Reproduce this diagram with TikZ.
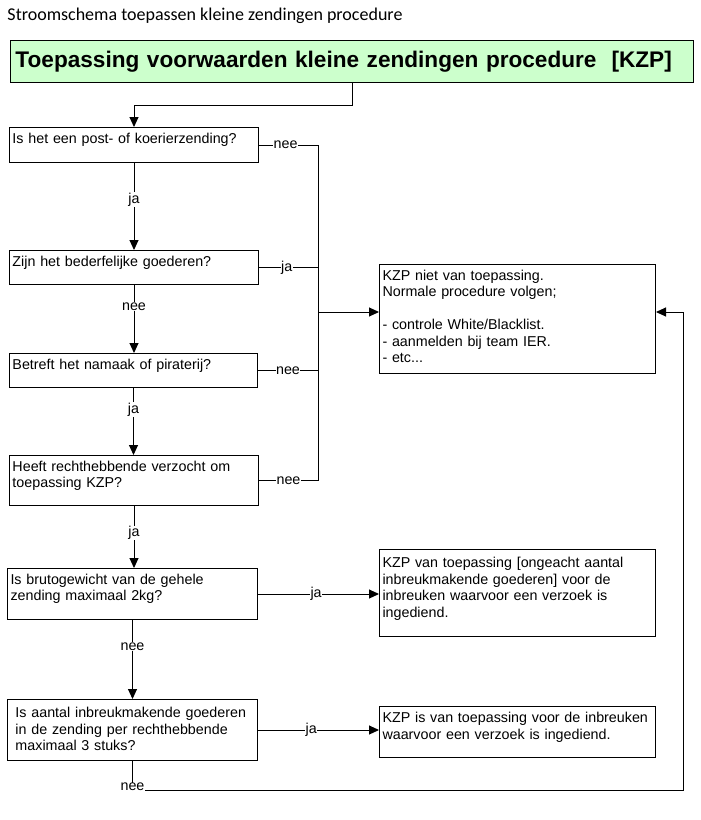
\documentclass[tikz,border=0pt]{standalone}
\usepackage{fontspec}
\setmainfont{Liberation Sans}
\newfontfamily\titlefont{Carlito}
\usepackage{tikz}
\usetikzlibrary{arrows.meta}
\definecolor{kzpgreen}{RGB}{204,255,204}
\newcommand{\boxfont}{\fontsize{14.3}{16.5}\selectfont}

\begin{document}
\begin{tikzpicture}[x=1pt,y=-1pt,>={Triangle[length=10pt,width=9pt]},line width=1pt,
  main node/.style={draw,anchor=north west,inner xsep=3pt,inner ysep=3pt,text height=12.5pt,align=left,font=\boxfont},
  head node/.style={draw,fill=kzpgreen,anchor=north west,minimum height=42pt,text width=673pt,inner xsep=5pt,align=left,font=\bfseries\fontsize{22.6}{26}\selectfont},
  title node/.style={anchor=west,inner sep=0pt,font=\titlefont\fontsize{18}{21}\selectfont},
  answer/.style={fill=white,inner sep=0.5pt,font=\boxfont}]
  \useasboundingbox (0,0) rectangle (701,820);

  \node[title node] (title) at (7,16) {Stroomschema toepassen kleine zendingen procedure};
  \node[head node] (head) at (10,40) {Toepassing voorwaarden kleine zendingen procedure\ \ [KZP]};

  % vragen
  \node[main node,text width=243pt,text depth=16.5pt] (post) at (9,127) {Is het een post- of koerierzending?};
  \node[main node,text width=243pt,text depth=15.5pt] (bederf) at (9,250) {Zijn het bederfelijke goederen?};
  \node[main node,text width=242pt,text depth=15.5pt] (namaak) at (9,353) {Betreft het namaak of piraterij?};
  \node[main node,text width=243pt,text depth=31.5pt] (verzoek) at (9,455) {Heeft rechthebbende verzocht om\\toepassing KZP?};
  \node[main node,text width=244pt,text depth=32.5pt] (gewicht) at (7,568) {Is brutogewicht van de gehele\\zending maximaal 2kg?};
  \node[main node,text width=234pt,inner xsep=8pt,text height=15pt,text depth=40pt] (aantal) at (7,699) {Is aantal inbreukmakende goederen\\in de zending per rechthebbende\\maximaal 3 stuks?};

  % uitkomsten
  \node[main node,text width=270pt,text depth=90.5pt] (niet) at (379,264) {KZP niet van toepassing.\\Normale procedure volgen;\\[16.5pt]- controle White/Blacklist.\\- aanmelden bij team IER.\\- etc...};
  \node[main node,text width=270pt,text height=15pt,text depth=66pt] (ongeacht) at (379,549) {KZP van toepassing [ongeacht aantal\\inbreukmakende goederen] voor de\\inbreuken waarvoor een verzoek is\\ingediend.};
  \node[main node,text width=270pt,text height=13pt,text depth=32pt] (wel) at (379,706) {KZP is van toepassing voor de inbreuken\\waarvoor een verzoek is ingediend.};

  \coordinate (bus) at (318,312);
  \coordinate (loop) at (683,790);

  % verbindingen
  \draw[->] (head.south) -- ++(0,22) -| (post.north);
  \draw[->] (post.south) -- node[answer,pos=0.42] {ja} (post.south |- bederf.north);
  \draw[->] (bederf.south) -- node[answer,pos=0.32] {nee} (bederf.south |- namaak.north);
  \draw[->] (namaak.south) -- node[answer,pos=0.32] {ja} (namaak.south |- verzoek.north);
  \draw[->] (verzoek.south) -- node[answer,pos=0.43] {ja} (verzoek.south |- gewicht.north);
  \draw[->] (gewicht.south) -- node[answer,pos=0.34] {nee} (gewicht.south |- aantal.north);

  \draw (post.east) -- node[answer,pos=0.45] {nee} (post.east -| bus) -- (verzoek.east -| bus);
  \draw (bederf.east) -- node[answer,pos=0.47] {ja} (bederf.east -| bus);
  \draw (namaak.east) -- node[answer] {nee} (namaak.east -| bus);
  \draw (verzoek.east) -- node[answer] {nee} (verzoek.east -| bus);
  \draw[->] (bus) -- (bus -| niet.west);

  \draw[->] (gewicht.east) -- node[answer,pos=0.48] {ja} (gewicht.east -| ongeacht.west);
  \draw[->] (aantal.east) -- node[answer,pos=0.44] {ja} (aantal.east -| wel.west);
  \draw[->] (aantal.south) |- node[answer,yshift=3pt] {nee} (loop) -- (loop |- bus) -- (bus -| niet.east);
\end{tikzpicture}
\end{document}
